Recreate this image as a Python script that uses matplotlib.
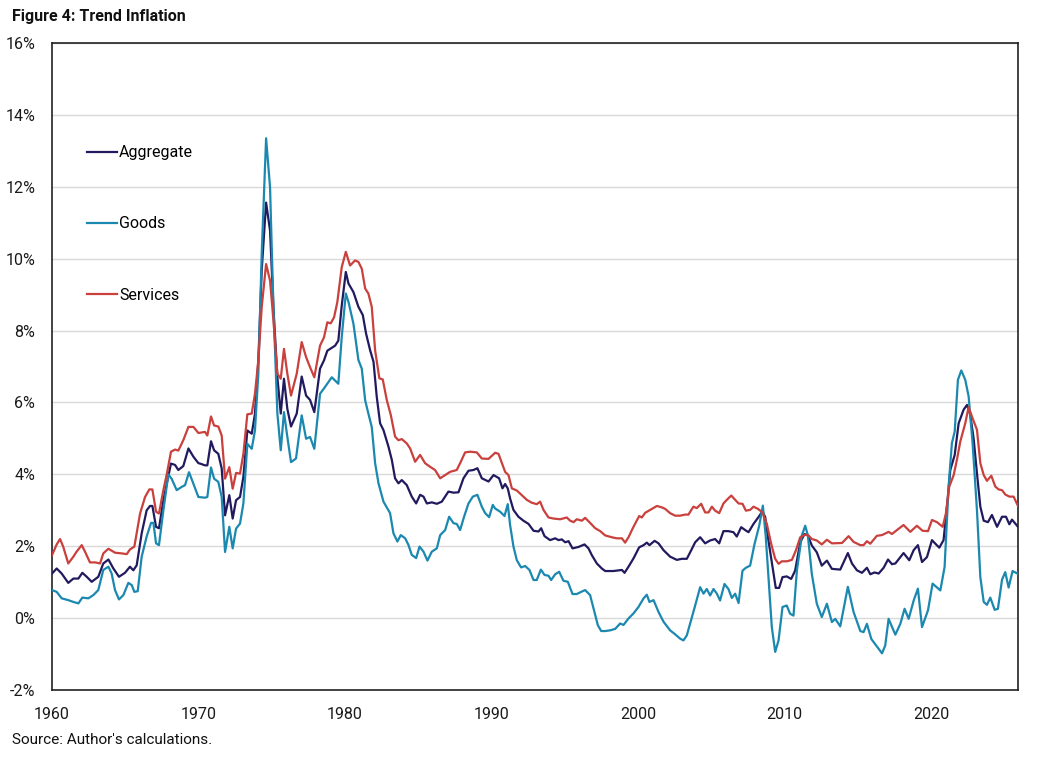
import matplotlib.pyplot as plt
from matplotlib.ticker import FuncFormatter

# Werte (Jahr als Dezimalzahl, Inflation in %)
years_agg = [1960.0, 1960.32, 1960.66, 1961.11, 1961.46, 1961.80, 1962.07, 1962.37, 1962.71, 1963.16,
             1963.50, 1963.85, 1964.19, 1964.57, 1964.98, 1965.32, 1965.55, 1965.78, 1966.12, 1966.46,
             1966.69, 1966.85, 1967.10, 1967.30, 1967.60, 1967.83, 1968.12, 1968.40, 1968.62, 1968.96,
             1969.31, 1969.65, 1969.99, 1970.10, 1970.44, 1970.60, 1970.85, 1971.06, 1971.35, 1971.58,
             1971.81, 1972.10, 1972.33, 1972.56, 1972.83, 1973.06, 1973.33, 1973.63, 1973.85, 1974.08,
             1974.31, 1974.61, 1974.88, 1975.11, 1975.38, 1975.61, 1975.83, 1976.06, 1976.31, 1976.70,
             1977.04, 1977.34, 1977.61, 1977.90, 1978.29, 1978.56, 1978.79, 1979.09, 1979.32, 1979.54,
             1979.77, 1980.05, 1980.23, 1980.57, 1980.91, 1981.21, 1981.43, 1981.71, 1981.94, 1982.16,
             1982.39, 1982.62, 1982.96, 1983.19, 1983.41, 1983.64, 1983.87, 1984.21, 1984.55, 1984.85,
             1985.12, 1985.35, 1985.58, 1985.92, 1986.26, 1986.60, 1987.05, 1987.40, 1987.74, 1988.08,
             1988.42, 1988.76, 1989.03, 1989.33, 1989.79, 1990.13, 1990.51, 1990.74, 1990.92, 1991.10,
             1991.26, 1991.49, 1991.83, 1992.17, 1992.52, 1992.86, 1993.20, 1993.38, 1993.61, 1993.99,
             1994.34, 1994.56, 1994.79, 1995.02, 1995.25, 1995.52, 1995.93, 1996.34, 1996.61, 1996.84,
             1997.18, 1997.52, 1997.75, 1998.32, 1998.89, 1999.07, 1999.34, 1999.68, 2000.07, 2000.37,
             2000.59, 2000.77, 2001.12, 2001.39, 2001.73, 2002.18, 2002.64, 2002.98, 2003.32, 2003.61,
             2003.89, 2004.23, 2004.57, 2004.91, 2005.25, 2005.53, 2005.82, 2006.16, 2006.50, 2006.73,
             2007.03, 2007.30, 2007.53, 2007.87, 2008.21, 2008.48, 2008.67, 2008.89, 2009.17, 2009.39,
             2009.62, 2009.85, 2010.14, 2010.44, 2010.71, 2011.06, 2011.35, 2011.58, 2011.85, 2012.19,
             2012.53, 2012.88, 2013.22, 2013.79, 2014.31, 2014.59, 2014.93, 2015.27, 2015.61, 2015.84,
             2016.13, 2016.41, 2016.75, 2017.05, 2017.32, 2017.55, 2017.82, 2018.11, 2018.50, 2018.80,
             2019.09, 2019.37, 2019.71, 2020.05, 2020.28, 2020.55, 2020.84, 2021.07, 2021.30, 2021.60,
             2021.87, 2022.21, 2022.44, 2022.66, 2022.89, 2023.12, 2023.35, 2023.58, 2023.87, 2024.14,
             2024.49, 2024.83, 2025.10, 2025.33, 2025.51, 2025.92]
agg = [1.24, 1.38, 1.24, 0.98, 1.10, 1.10, 1.26, 1.15, 1.01, 1.15,
       1.52, 1.63, 1.38, 1.15, 1.26, 1.43, 1.33, 1.47, 2.36, 3.00,
       3.12, 3.12, 2.54, 2.50, 3.28, 3.74, 4.30, 4.26, 4.12, 4.23,
       4.72, 4.49, 4.31, 4.30, 4.25, 4.25, 4.92, 4.67, 4.57, 4.16,
       2.86, 3.42, 2.77, 3.28, 3.37, 3.93, 5.22, 5.13, 5.69, 7.17,
       9.67, 11.56, 10.78, 8.65, 6.70, 5.69, 6.66, 5.82, 5.33, 5.69,
       6.72, 6.19, 6.07, 5.73, 6.94, 7.17, 7.44, 7.52, 7.58, 7.72,
       8.69, 9.63, 9.31, 9.07, 8.66, 8.43, 7.92, 7.45, 7.13, 6.16,
       5.42, 5.23, 4.77, 4.40, 3.89, 3.75, 3.84, 3.70, 3.38, 3.19,
       3.43, 3.38, 3.19, 3.22, 3.18, 3.24, 3.52, 3.49, 3.50, 3.89,
       4.10, 4.12, 4.17, 3.89, 3.80, 3.98, 3.89, 3.61, 3.73, 3.61,
       3.33, 3.01, 2.82, 2.71, 2.62, 2.43, 2.41, 2.50, 2.28, 2.17,
       2.22, 2.17, 2.19, 2.11, 2.14, 1.94, 1.98, 2.05, 1.94, 1.75,
       1.52, 1.38, 1.31, 1.31, 1.34, 1.26, 1.43, 1.66, 1.97, 2.03,
       2.10, 2.03, 2.15, 2.08, 1.89, 1.71, 1.62, 1.65, 1.65, 1.88,
       2.11, 2.25, 2.08, 2.16, 2.20, 2.08, 2.42, 2.42, 2.39, 2.27,
       2.53, 2.45, 2.39, 2.62, 2.81, 2.97, 2.81, 2.16, 1.42, 0.84,
       0.84, 1.14, 1.16, 1.09, 1.32, 2.11, 2.34, 2.30, 2.02, 1.83,
       1.46, 1.60, 1.37, 1.35, 1.81, 1.52, 1.33, 1.26, 1.40, 1.22,
       1.27, 1.24, 1.40, 1.63, 1.50, 1.52, 1.66, 1.81, 1.61, 1.89,
       2.03, 1.56, 1.70, 2.17, 2.07, 1.96, 2.17, 3.10, 4.12, 4.54,
       5.42, 5.80, 5.93, 5.66, 5.00, 4.03, 3.10, 2.71, 2.67, 2.87,
       2.54, 2.82, 2.82, 2.61, 2.74, 2.54]

years_goods = [1960.0, 1960.32, 1960.66, 1961.11, 1961.46, 1961.80, 1962.07, 1962.48, 1962.82, 1963.16,
               1963.50, 1963.85, 1964.07, 1964.30, 1964.57, 1964.87, 1965.21, 1965.44, 1965.62, 1965.85,
               1966.12, 1966.46, 1966.76, 1966.92, 1967.10, 1967.30, 1967.60, 1967.94, 1968.17, 1968.51,
               1968.85, 1969.08, 1969.35, 1969.65, 1969.99, 1970.44, 1970.60, 1970.85, 1971.06, 1971.35,
               1971.58, 1971.81, 1972.10, 1972.33, 1972.56, 1972.83, 1973.06, 1973.33, 1973.63, 1973.85,
               1974.08, 1974.31, 1974.61, 1974.88, 1975.11, 1975.38, 1975.61, 1975.83, 1976.06, 1976.31,
               1976.65, 1977.04, 1977.34, 1977.61, 1977.90, 1978.29, 1978.63, 1979.09, 1979.54, 1979.77,
               1980.05, 1980.23, 1980.57, 1980.91, 1981.14, 1981.37, 1981.59, 1981.82, 1982.05, 1982.28,
               1982.62, 1983.07, 1983.30, 1983.57, 1983.80, 1984.10, 1984.32, 1984.55, 1984.85, 1985.08,
               1985.35, 1985.62, 1985.92, 1986.26, 1986.49, 1986.83, 1987.10, 1987.40, 1987.62, 1987.85,
               1988.12, 1988.42, 1988.72, 1989.03, 1989.33, 1989.56, 1989.83, 1990.08, 1990.24, 1990.58,
               1990.88, 1991.10, 1991.26, 1991.49, 1991.72, 1992.01, 1992.29, 1992.58, 1992.86, 1993.08,
               1993.36, 1993.61, 1993.88, 1994.06, 1994.34, 1994.61, 1994.90, 1995.20, 1995.52, 1995.81,
               1996.11, 1996.38, 1996.72, 1997.02, 1997.25, 1997.48, 1997.75, 1998.09, 1998.43, 1998.77,
               1999.00, 1999.34, 1999.68, 2000.02, 2000.37, 2000.59, 2000.77, 2001.05, 2001.39, 2001.73,
               2002.18, 2002.52, 2002.86, 2003.09, 2003.32, 2003.61, 2003.89, 2004.23, 2004.46, 2004.68,
               2004.91, 2005.14, 2005.37, 2005.59, 2005.89, 2006.16, 2006.39, 2006.62, 2006.85, 2007.12,
               2007.35, 2007.64, 2007.94, 2008.26, 2008.51, 2008.71, 2008.94, 2009.12, 2009.35, 2009.58,
               2009.85, 2010.14, 2010.37, 2010.60, 2010.83, 2011.17, 2011.40, 2011.58, 2011.85, 2012.19,
               2012.53, 2012.88, 2013.22, 2013.45, 2013.79, 2014.31, 2014.70, 2015.16, 2015.38, 2015.61,
               2015.91, 2016.29, 2016.64, 2016.86, 2017.09, 2017.55, 2017.89, 2018.18, 2018.46, 2018.80,
               2019.09, 2019.37, 2019.78, 2020.09, 2020.62, 2020.91, 2021.19, 2021.41, 2021.60, 2021.82,
               2022.05, 2022.32, 2022.55, 2022.82, 2023.12, 2023.35, 2023.58, 2023.80, 2024.03, 2024.33,
               2024.55, 2024.83, 2025.05, 2025.28, 2025.55, 2025.92]
goods = [0.78, 0.73, 0.55, 0.50, 0.45, 0.41, 0.57, 0.55, 0.64, 0.78,
         1.34, 1.43, 1.24, 0.78, 0.52, 0.64, 0.98, 0.92, 0.73, 0.75,
         1.71, 2.27, 2.65, 2.65, 2.08, 2.03, 3.00, 4.00, 3.87, 3.56,
         3.65, 3.70, 4.06, 3.74, 3.37, 3.35, 3.37, 4.19, 3.88, 3.79,
         3.37, 1.84, 2.54, 1.94, 2.49, 2.63, 3.19, 4.85, 4.71, 5.22,
         6.80, 10.13, 13.35, 11.98, 8.65, 5.69, 4.67, 5.73, 5.04, 4.34,
         4.44, 5.64, 4.99, 5.04, 4.71, 6.24, 6.43, 6.70, 6.52, 7.81,
         9.03, 8.80, 8.19, 7.18, 6.94, 6.06, 5.69, 5.32, 4.31, 3.75,
         3.24, 2.92, 2.36, 2.13, 2.31, 2.22, 2.04, 1.76, 1.67, 1.99,
         1.85, 1.60, 1.85, 1.94, 2.31, 2.45, 2.82, 2.64, 2.62, 2.45,
         2.82, 3.19, 3.38, 3.43, 3.10, 2.92, 2.81, 3.15, 3.05, 2.96,
         2.84, 3.17, 2.59, 1.99, 1.61, 1.41, 1.45, 1.34, 1.06, 1.06,
         1.35, 1.20, 1.18, 1.06, 1.22, 1.29, 1.04, 1.01, 0.67, 0.67,
         0.73, 0.78, 0.64, 0.17, -0.20, -0.36, -0.36, -0.34, -0.30, -0.15,
         -0.19, -0.01, 0.13, 0.31, 0.55, 0.65, 0.45, 0.50, 0.17, -0.10,
         -0.34, -0.45, -0.57, -0.62, -0.48, -0.06, 0.35, 0.86, 0.68, 0.81,
         0.63, 0.81, 0.68, 0.49, 0.95, 0.81, 0.56, 0.68, 0.42, 1.32,
         1.40, 1.46, 2.06, 2.57, 3.13, 2.25, 0.86, -0.25, -0.94, -0.62,
         0.31, 0.35, 0.12, 0.07, 1.32, 2.30, 2.57, 2.30, 1.23, 0.40,
         0.03, 0.40, -0.11, -0.02, -0.23, 0.87, 0.17, -0.36, -0.39, -0.16,
         -0.58, -0.79, -0.98, -0.76, -0.02, -0.46, -0.16, 0.26, -0.02, 0.49,
         0.82, -0.25, 0.22, 0.96, 0.77, 1.42, 3.70, 4.87, 5.19, 6.63,
         6.89, 6.63, 6.17, 4.87, 3.00, 1.14, 0.45, 0.37, 0.57, 0.23,
         0.26, 1.07, 1.28, 0.85, 1.31, 1.23]

years_serv = [1960.0, 1960.32, 1960.55, 1960.77, 1961.11, 1961.46, 1961.68, 1962.03, 1962.25, 1962.59,
              1962.94, 1963.28, 1963.50, 1963.85, 1964.30, 1964.76, 1965.10, 1965.32, 1965.62, 1966.01,
              1966.35, 1966.64, 1966.85, 1967.10, 1967.30, 1967.60, 1967.83, 1968.12, 1968.40, 1968.62,
              1968.96, 1969.31, 1969.65, 1969.99, 1970.44, 1970.60, 1970.85, 1971.06, 1971.35, 1971.58,
              1971.81, 1972.10, 1972.33, 1972.56, 1972.83, 1973.06, 1973.33, 1973.63, 1973.85, 1974.08,
              1974.31, 1974.61, 1974.88, 1975.11, 1975.38, 1975.61, 1975.83, 1976.06, 1976.31, 1976.70,
              1977.04, 1977.34, 1977.61, 1977.90, 1978.29, 1978.56, 1978.79, 1979.02, 1979.25, 1979.47,
              1979.77, 1980.05, 1980.34, 1980.68, 1980.91, 1981.14, 1981.37, 1981.59, 1981.82, 1982.05,
              1982.34, 1982.57, 1982.85, 1983.12, 1983.41, 1983.64, 1983.87, 1984.21, 1984.44, 1984.78,
              1985.12, 1985.46, 1985.80, 1986.14, 1986.49, 1986.83, 1987.17, 1987.62, 1987.85, 1988.19,
              1988.53, 1988.99, 1989.33, 1989.79, 1990.24, 1990.47, 1990.70, 1990.92, 1991.15, 1991.38,
              1991.72, 1992.06, 1992.40, 1992.74, 1993.08, 1993.31, 1993.54, 1993.88, 1994.22, 1994.68,
              1995.13, 1995.36, 1995.59, 1995.81, 1996.16, 1996.38, 1996.72, 1997.07, 1997.41, 1997.75,
              1998.20, 1998.54, 1998.89, 1999.11, 1999.34, 1999.68, 2000.07, 2000.25, 2000.48, 2000.82,
              2001.28, 2001.62, 2001.84, 2002.18, 2002.52, 2002.86, 2003.21, 2003.43, 2003.77, 2004.00,
              2004.30, 2004.57, 2004.80, 2005.03, 2005.25, 2005.53, 2005.82, 2006.05, 2006.35, 2006.62,
              2006.85, 2007.12, 2007.35, 2007.64, 2007.87, 2008.17, 2008.48, 2008.78, 2009.08, 2009.35,
              2009.58, 2009.80, 2010.14, 2010.49, 2010.76, 2011.06, 2011.40, 2011.62, 2011.85, 2012.19,
              2012.53, 2012.88, 2013.22, 2013.91, 2014.36, 2014.70, 2015.16, 2015.38, 2015.61, 2015.84,
              2016.29, 2016.64, 2017.09, 2017.32, 2017.66, 2018.11, 2018.57, 2019.02, 2019.41, 2019.78,
              2020.05, 2020.39, 2020.78, 2021.00, 2021.23, 2021.53, 2021.75, 2021.98, 2022.32, 2022.55,
              2022.82, 2023.12, 2023.35, 2023.58, 2023.80, 2024.10, 2024.37, 2024.60, 2024.83, 2025.05,
              2025.33, 2025.62, 2025.92]
serv = [1.75, 2.05, 2.20, 1.98, 1.52, 1.71, 1.85, 2.03, 1.85, 1.55,
        1.55, 1.52, 1.80, 1.93, 1.82, 1.80, 1.78, 1.91, 1.99, 2.91,
        3.37, 3.58, 3.58, 2.96, 2.91, 3.56, 4.00, 4.63, 4.69, 4.66,
        4.95, 5.32, 5.32, 5.15, 5.18, 5.08, 5.61, 5.36, 5.33, 5.08,
        3.88, 4.20, 3.60, 4.04, 4.02, 4.57, 5.67, 5.69, 6.24, 7.17,
        8.65, 9.85, 9.39, 8.28, 6.80, 6.66, 7.49, 6.80, 6.19, 6.80,
        7.68, 7.26, 6.98, 6.70, 7.58, 7.81, 8.23, 8.20, 8.37, 8.79,
        9.76, 10.19, 9.81, 9.95, 9.91, 9.72, 9.17, 9.03, 8.66, 7.45,
        6.67, 6.64, 6.06, 5.65, 5.05, 4.95, 4.98, 4.86, 4.72, 4.35,
        4.54, 4.31, 4.21, 4.12, 3.89, 3.98, 4.07, 4.12, 4.31, 4.61,
        4.63, 4.61, 4.44, 4.43, 4.60, 4.57, 4.31, 4.07, 3.98, 3.61,
        3.55, 3.42, 3.29, 3.21, 3.17, 3.24, 3.01, 2.80, 2.77, 2.75,
        2.80, 2.71, 2.67, 2.75, 2.71, 2.79, 2.65, 2.50, 2.42, 2.30,
        2.25, 2.22, 2.22, 2.10, 2.25, 2.54, 2.84, 2.80, 2.93, 3.01,
        3.12, 3.08, 3.04, 2.92, 2.85, 2.85, 2.88, 2.88, 3.10, 3.06,
        3.18, 2.94, 2.94, 3.10, 2.99, 2.92, 3.19, 3.29, 3.41, 3.29,
        3.19, 3.18, 2.99, 3.01, 3.10, 3.04, 2.94, 2.62, 2.06, 1.65,
        1.51, 1.58, 1.58, 1.62, 1.88, 2.25, 2.32, 2.30, 2.20, 2.16,
        2.05, 2.18, 2.08, 2.09, 2.28, 2.12, 2.03, 2.03, 2.14, 2.07,
        2.29, 2.31, 2.40, 2.34, 2.45, 2.59, 2.40, 2.57, 2.43, 2.42,
        2.73, 2.67, 2.54, 2.91, 3.66, 3.98, 4.40, 4.91, 5.42, 5.87,
        5.56, 5.24, 4.31, 3.98, 3.82, 3.96, 3.66, 3.58, 3.56, 3.44,
        3.38, 3.38, 3.12]

decades = [1960, 1970, 1980, 1990, 2000, 2010, 2020]

farben = {
    "Aggregate": "#211a5e",
    "Goods": "#1b88b0",
    "Services": "#c9403c",
}

plt.rcParams['font.family'] = ['Roboto', 'DejaVu Sans']

fig = plt.figure(figsize=(10.44, 7.58), dpi=100)
ax = fig.add_axes([52 / 1044, 1 - 690 / 758, 966 / 1044, 647 / 758])

ax.plot(years_agg, agg, color=farben["Aggregate"], linewidth=1.6, label="Aggregate", zorder=3)
ax.plot(years_goods, goods, color=farben["Goods"], linewidth=1.6, label="Goods", zorder=3)
ax.plot(years_serv, serv, color=farben["Services"], linewidth=1.6, label="Services", zorder=3)

# Achsen
ax.set_xlim(1960, 2025.92)
ax.set_ylim(-2, 16)
ax.set_xticks(decades)
ax.set_yticks(range(-2, 17, 2))
ax.yaxis.set_major_formatter(FuncFormatter(lambda v, p: f"{v:.0f}%"))
ax.tick_params(axis='both', length=0, labelsize=11.5, colors='#1a1a1a', pad=12)

# Raster und Rahmen
ax.grid(axis='y', color='#d9d9d9', linewidth=1.0)
ax.set_axisbelow(True)
for s in ax.spines.values():
    s.set_color('#222222')
    s.set_linewidth(1.2)

# Legende
ax.legend(loc='upper left', bbox_to_anchor=(0.036, 0.842), frameon=False,
          fontsize=11.5, handlelength=1.9, handletextpad=0.12,
          labelspacing=3.52, borderpad=0, borderaxespad=0)

# Titel und Quelle
fig.text(12 / 1044, 1 - 17 / 758, "Figure 4: Trend Inflation", fontsize=11.5,
         fontweight='bold', va='center', ha='left', color='#111111')
fig.text(12 / 1044, 1 - 740 / 758, "Source: Author's calculations.", fontsize=11,
         va='center', ha='left', color='#111111')

fig.savefig("out.png", dpi=100)
